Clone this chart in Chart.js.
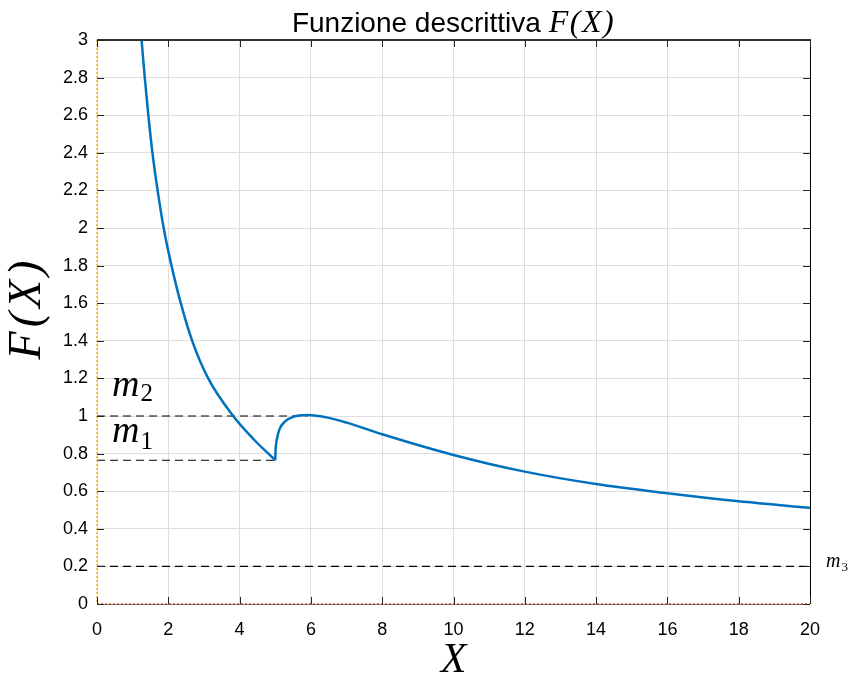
<!DOCTYPE html>
<html>
<head>
<meta charset="utf-8">
<script src="https://cdn.jsdelivr.net/npm/chart.js@4.4.1/dist/chart.umd.min.js"></script>
<style>
  body { margin: 0; background: #fff; }
  canvas { display: block; }
</style>
</head>
<body>
<canvas id="fxChart" width="852" height="676"></canvas>
<script>
// curva F(X): ramo sinistro (X < 5) e ramo destro (X >= 5)
const xLeft = [1.25, 1.34, 1.44, 1.555, 1.70, 1.87, 2.09, 2.35, 2.67, 3.12, 3.82, 4.4, 5.0];
const yLeft = [3.0, 2.8, 2.6, 2.4, 2.2, 2.0, 1.8, 1.6, 1.4, 1.2, 1.0, 0.875, 0.765];
const xRight = [5.0, 5.01, 5.04, 5.12, 5.27, 5.5, 5.9, 6.5, 7.0, 8, 10, 12, 14, 16, 18, 20];
const yRight = [0.765, 0.82, 0.87, 0.93, 0.97, 0.995, 1.005, 0.99, 0.965, 0.903, 0.793, 0.704, 0.638, 0.589, 0.546, 0.512];

// livelli tratteggiati m1, m2, m3
const refNames = ['m', 'm', 'm'];
const refSubs = ['1', '2', '3'];
const refLevels = [0.765, 1.0, 0.2];
const refEnds = [5.0, 5.9, 20];

const xTicksStep = 2;
const yTicksStep = 0.2;

const toPts = (xs, ys) => xs.map((v, i) => ({ x: v, y: ys[i] }));

const curveStyle = {
    borderColor: '#0072BD',
    borderWidth: 2.5,
    pointRadius: 0,
    cubicInterpolationMode: 'monotone',
    order: 0
};

const refSets = refLevels.map((lv, i) => ({
    label: refNames[i] + refSubs[i],
    data: [{ x: 0, y: lv }, { x: refEnds[i], y: lv }],
    borderColor: '#000',
    borderWidth: 1.1,
    borderDash: [8, 5],
    pointRadius: 0,
    tension: 0,
    order: 1
}));

const SERIF = '"Liberation Serif", "DejaVu Serif", serif';
const SANS = '"Liberation Sans", Arial, sans-serif';

const decor = {
    id: 'decor',
    afterDraw(chart) {
        const { ctx, chartArea: a, scales: { x, y } } = chart;
        ctx.save();

        // bordi colorati a puntini (asse x=0 e y=0)
        ctx.lineWidth = 1.5;
        ctx.setLineDash([2, 2]);
        ctx.strokeStyle = '#D95319';
        ctx.beginPath(); ctx.moveTo(a.left, a.bottom); ctx.lineTo(a.right, a.bottom); ctx.stroke();
        ctx.strokeStyle = '#EDB120';
        ctx.beginPath(); ctx.moveTo(a.left, a.top); ctx.lineTo(a.left, a.bottom); ctx.stroke();
        ctx.setLineDash([]);

        // box
        ctx.strokeStyle = '#333';
        ctx.lineWidth = 2;
        ctx.beginPath();
        ctx.moveTo(a.left, a.top); ctx.lineTo(a.right + 1, a.top);
        ctx.stroke();
        ctx.strokeStyle = '#000';
        ctx.lineWidth = 1;
        ctx.beginPath();
        ctx.moveTo(a.right + 0.5, a.top); ctx.lineTo(a.right + 0.5, a.bottom);
        ctx.stroke();
        ctx.strokeStyle = 'rgba(38,38,38,0.5)';
        ctx.beginPath();
        ctx.moveTo(a.left, a.bottom + 0.5); ctx.lineTo(a.right, a.bottom + 0.5);
        ctx.stroke();

        // tacche interne
        ctx.strokeStyle = '#262626';
        ctx.beginPath();
        x.ticks.forEach(t => {
            const px = Math.round(x.getPixelForValue(t.value)) + 0.5;
            ctx.moveTo(px, a.bottom); ctx.lineTo(px, a.bottom - 7);
            ctx.moveTo(px, a.top); ctx.lineTo(px, a.top + 7);
        });
        y.ticks.forEach(t => {
            const py = Math.round(y.getPixelForValue(t.value)) + 0.5;
            ctx.moveTo(a.left, py); ctx.lineTo(a.left + 7, py);
            ctx.moveTo(a.right, py); ctx.lineTo(a.right - 7, py);
        });
        ctx.stroke();

        // titolo
        const t1 = 'Funzione descrittiva ';
        const t2 = 'F(X)';
        ctx.fillStyle = '#000';
        ctx.textBaseline = 'alphabetic';
        ctx.textAlign = 'left';
        ctx.font = '28px ' + SANS;
        const w1 = ctx.measureText(t1).width;
        ctx.font = 'italic 32px ' + SERIF;
        ctx.letterSpacing = '1.5px';
        const w2 = ctx.measureText(t2).width;
        ctx.letterSpacing = '0px';
        const cx = (a.left + a.right) / 2;
        const sx = cx - (w1 + w2) / 2;
        ctx.font = '28px ' + SANS;
        ctx.fillText(t1, sx, 32);
        ctx.font = 'italic 32px ' + SERIF;
        ctx.letterSpacing = '1.5px';
        ctx.fillText(t2, sx + w1, 32);
        ctx.letterSpacing = '0px';

        // etichette assi
        ctx.font = 'italic 42px ' + SERIF;
        ctx.textAlign = 'center';
        ctx.fillText('X', cx, 672);
        ctx.save();
        ctx.translate(40, 310);
        ctx.rotate(-Math.PI / 2);
        ctx.font = 'italic 46px ' + SERIF;
        ctx.letterSpacing = '4px';
        ctx.fillText('F(X)', 2, 0);
        ctx.restore();

        // etichette m1, m2, m3
        ctx.textAlign = 'left';
        const labelAt = [
            { x: 0.42, y: 0.862, big: 38, small: 25, dy: 7 },
            { x: 0.42, y: 1.107, big: 38, small: 25, dy: 5 },
            { x: 20.45, y: 0.196, big: 20, small: 13, dy: 4 }
        ];
        labelAt.forEach((p, i) => {
            const px = x.getPixelForValue(p.x);
            const py = y.getPixelForValue(p.y);
            ctx.font = 'italic ' + p.big + 'px ' + SERIF;
            ctx.fillText(refNames[i], px, py);
            const wm = ctx.measureText(refNames[i]).width;
            ctx.font = p.small + 'px ' + SERIF;
            ctx.fillText(refSubs[i], px + wm + 1, py + p.dy);
        });

        ctx.restore();
    }
};

new Chart(document.getElementById('fxChart'), {
    type: 'line',
    data: {
        datasets: [
            { label: 'F(X) sx', data: toPts(xLeft, yLeft), ...curveStyle },
            { label: 'F(X) dx', data: toPts(xRight, yRight), ...curveStyle },
            ...refSets
        ]
    },
    options: {
        responsive: false,
        animation: false,
        layout: { padding: { left: 0, top: 40, right: 42, bottom: 0 } },
        plugins: {
            legend: { display: false },
            tooltip: { enabled: false }
        },
        scales: {
            x: {
                type: 'linear',
                min: 0,
                max: 20,
                afterFit: s => { s.height = 72; },
                border: { display: false },
                grid: { color: '#dedede', drawTicks: false },
                ticks: {
                    stepSize: xTicksStep,
                    padding: 15,
                    color: '#000',
                    font: { family: SANS, size: 18 }
                }
            },
            y: {
                min: 0,
                max: 3,
                afterFit: s => { s.width = 97; },
                border: { display: false },
                grid: { color: '#dedede', drawTicks: false },
                ticks: {
                    stepSize: yTicksStep,
                    padding: 9,
                    color: '#000',
                    font: { family: SANS, size: 18 },
                    callback: v => String(Number(v.toFixed(1)))
                }
            }
        }
    },
    plugins: [decor]
});
</script>
</body>
</html>
